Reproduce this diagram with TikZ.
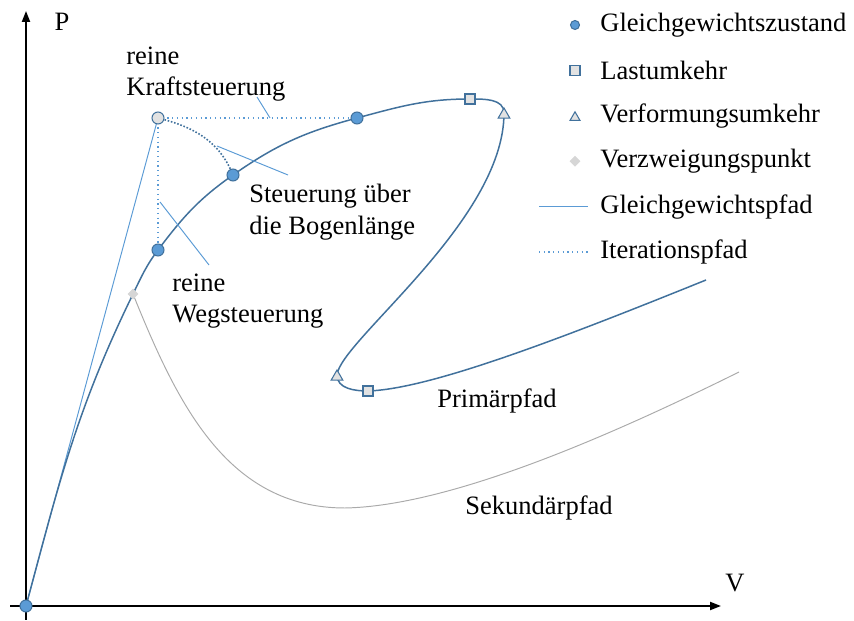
\documentclass[tikz,border=0pt]{standalone}
\usepackage{fontspec}
\setmainfont{Liberation Serif}
\usetikzlibrary{arrows.meta,shapes.geometric}
\definecolor{pathblue}{RGB}{65,113,156}
\definecolor{lightblue}{RGB}{91,155,213}
\definecolor{markgray}{RGB}{226,226,226}
\definecolor{secgray}{RGB}{170,170,170}
\definecolor{bifgray}{RGB}{214,214,214}

\begin{document}
\begin{tikzpicture}[x=0.02cm, y=0.02cm,
    every node/.style={font=\fontsize{15.1}{18.1}\selectfont},
    lbl/.style={anchor=west, align=left, inner sep=0pt},
    axis/.style={line width=1.1pt, -{Triangle[length=0.22cm, width=0.16cm]}},
    primary/.style={pathblue, line width=0.85pt},
    secondary/.style={secgray, line width=0.55pt},
    tangent/.style={lightblue, line width=0.55pt},
    iter/.style={lightblue, line width=0.7pt, dotted},
    iterarc/.style={pathblue, line width=0.9pt, densely dotted},
    callout/.style={lightblue, line width=0.55pt},
    eqpt/.style={circle, fill=lightblue, draw=pathblue, line width=0.6pt, minimum size=0.24cm, inner sep=0pt},
    loadrev/.style={rectangle, fill=markgray, draw=pathblue, line width=0.6pt, minimum size=0.2cm, inner sep=0pt},
    disprev/.style={regular polygon, regular polygon sides=3, fill=markgray, draw=pathblue, line width=0.6pt, minimum size=0.27cm, inner sep=0pt},
    bifpt/.style={diamond, fill=bifgray, draw=bifgray, minimum size=0.2cm, inner sep=0pt}]
    \useasboundingbox (0,0) rectangle (854,621);

    % points on the paths
    \coordinate (O) at (26,15);
    \coordinate (B) at (133,327);
    \coordinate (E1) at (158,371);
    \coordinate (E2) at (233,446);
    \coordinate (E3) at (357,503);
    \coordinate (L1) at (470,522);
    \coordinate (U1) at (504,508);
    \coordinate (U2) at (337,246);
    \coordinate (L2) at (368,230);
    \coordinate (PE) at (706,341);
    \coordinate (K) at (158,503);
    \coordinate (Smin) at (345,113);
    \coordinate (SE) at (739,249);

    % axes
    \coordinate (ybot) at (26,1);
    \coordinate (ytop) at (26,610);
    \coordinate (xleft) at (10,15);
    \coordinate (xright) at (721,15);
    \draw[axis] (ybot) -- (ytop);
    \draw[axis] (xleft) -- (xright);
    \node (P) at (62,599) {P};
    \node (V) at (735,38) {V};

    % tangent and iteration paths
    \draw[tangent] (O) -- (K);
    \draw[iter] (K) -- (E3);
    \draw[iter] (K) -- (E1);
    \draw[iterarc] (K) to[out=-14,in=112] (E2);

    % secondary path
    \draw[secondary] (B) .. controls (177,218) and (227,113) .. (Smin)
        .. controls (450,115) and (610,185) .. (SE);

    % primary path
    \draw[primary] (O) to[out=75,in=-116] (B) to[out=64,in=-127] (E1)
        to[out=53,in=-145] (E2) to[out=35,in=-165] (E3) to[out=15,in=180] (L1)
        to[out=0,in=90] (U1) .. controls (504,400) and (340,280) .. (U2)
        to[out=-90,in=180] (L2) .. controls (430,232) and (560,282) .. (PE);

    % markers
    \node[eqpt] (mO) at (O) {};
    \node[bifpt] (mB) at (B) {};
    \foreach \p in {E1,E2,E3} {
        \node[eqpt] (m\p) at (\p) {};
    }
    \foreach \p in {L1,L2} {
        \node[loadrev] (m\p) at (\p) {};
    }
    \node[disprev] (mU1) at ([yshift=-1]U1) {};
    \node[disprev] (mU2) at ([yshift=-1]U2) {};
    \node[circle, fill=markgray, draw=pathblue, line width=0.6pt, minimum size=0.24cm, inner sep=0pt] (mK) at (K) {};

    % labels with callouts
    \node[lbl] (kraft) at (126,547) {reine\\Kraftsteuerung};
    \node[lbl] (bogen) at (249,409) {Steuerung über\\die Bogenlänge};
    \node[lbl] (weg) at (172,320) {reine\\Wegsteuerung};
    \coordinate (kraftA) at (257,524);
    \coordinate (kraftB) at (270,503);
    \coordinate (bogenA) at (217,475);
    \coordinate (bogenB) at (288,446);
    \coordinate (wegA) at (160,419);
    \coordinate (wegB) at (209,356);
    \draw[callout] (kraftA) -- (kraftB);
    \draw[callout] (bogenA) -- (bogenB);
    \draw[callout] (wegA) -- (wegB);

    \node (prim) at (497,220) {Primärpfad};
    \node (sek) at (539,113) {Sekundärpfad};

    % legend
    \foreach \txt [count=\i] in {Gleichgewichtszustand,Lastumkehr,Verformungsumkehr,Verzweigungspunkt,Gleichgewichtspfad,Iterationspfad} {
        \node[lbl] (leg\i) at (600,{596-45.4*(\i-1)}) {\txt};
        \coordinate (legm\i) at (575,{596-45.4*(\i-1)});
    }
    \node[eqpt, minimum size=0.18cm] (lm1) at (legm1) {};
    \node[loadrev, minimum size=0.2cm] (lm2) at (legm2) {};
    \node[disprev, minimum size=0.23cm] (lm3) at ([yshift=-1]legm3) {};
    \node[bifpt, minimum size=0.2cm] (lm4) at (legm4) {};
    \coordinate (legl5a) at (539,414.4);
    \coordinate (legl5b) at (588,414.4);
    \coordinate (legl6a) at (539,369);
    \coordinate (legl6b) at (588,369);
    \draw[tangent] (legl5a) -- (legl5b);
    \draw[iter] (legl6a) -- (legl6b);
\end{tikzpicture}
\end{document}
